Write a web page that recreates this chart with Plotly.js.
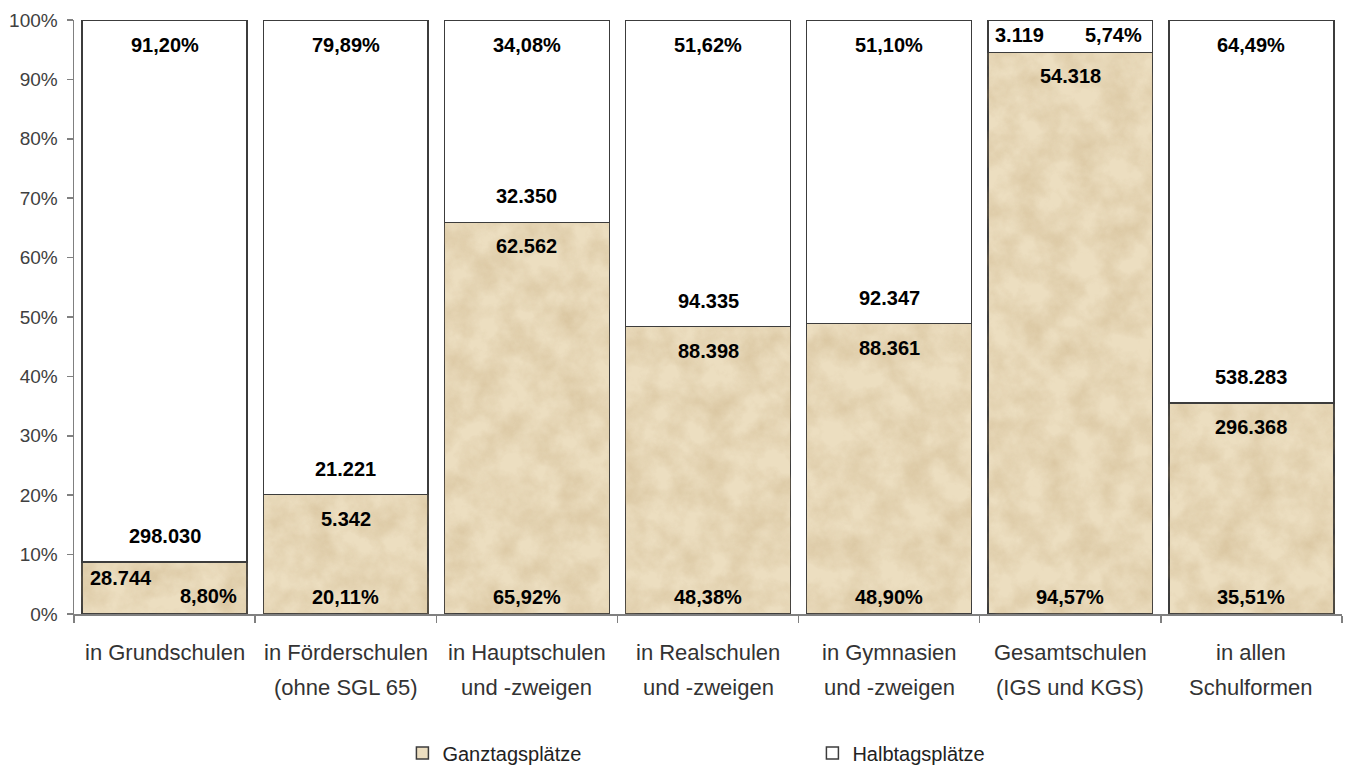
<!DOCTYPE html>
<html>
<head>
<meta charset="utf-8">
<script src="https://cdn.plot.ly/plotly-3.0.1.min.js"></script>
<style>
  html, body { margin: 0; padding: 0; background: #ffffff; }
  #chart { width: 1348px; height: 766px; }
</style>
</head>
<body>
<div id="chart"></div>
<script>
// ---- data ----
const categoryLine1 = ['in Grundschulen', 'in Förderschulen', 'in Hauptschulen', 'in Realschulen', 'in Gymnasien', 'Gesamtschulen', 'in allen'];
const categoryLine2 = ['', '(ohne SGL 65)', 'und -zweigen', 'und -zweigen', 'und -zweigen', '(IGS und KGS)', 'Schulformen'];
const ganztag = [28744, 5342, 62562, 88398, 88361, 54318, 296368];
const halbtag = [298030, 21221, 32350, 94335, 92347, 3119, 538283];
const ganztagPctLabels = ['8,80%', '20,11%', '65,92%', '48,38%', '48,90%', '94,57%', '35,51%'];
const halbtagPctLabels = ['91,20%', '79,89%', '34,08%', '51,62%', '51,10%', '5,74%', '64,49%'];
const seriesNames = ['Ganztagsplätze', 'Halbtagsplätze'];
const yTickVals = [0, 10, 20, 30, 40, 50, 60, 70, 80, 90, 100];

// category keys for the axis (line 1 + line 2)
const categories = categoryLine1.map((l, i) => (l + ' ' + categoryLine2[i]).trim());

// ---- styling ----
const FONT = '"Liberation Sans", Arial, Helvetica, sans-serif';
const sand = '#ECDEC0';
const edge = '#3c3c3c';

function fmt(n) { return String(n).replace(/\B(?=(\d{3})+(?!\d))/g, '.'); }

const traces = [
  { type: 'bar', name: seriesNames[0], x: categories, y: ganztag,
    marker: { color: sand, line: { color: edge, width: 1.5 } }, hoverinfo: 'skip' },
  { type: 'bar', name: seriesNames[1], x: categories, y: halbtag,
    marker: { color: '#ffffff', line: { color: edge, width: 1.5 } }, hoverinfo: 'skip' }
];

const lab = { family: FONT, size: 20, color: '#000000', weight: 'bold' };
const annotations = [];
categories.forEach((c, i) => {
  const total = ganztag[i] + halbtag[i];
  const gp = ganztag[i] / total * 100;
  const hp = 100 - gp;
  const base = { x: c, xref: 'x', yref: 'y', showarrow: false, font: lab, yanchor: 'middle' };
  // Halbtag segment (top)
  if (hp < 10) {
    const mid = gp + hp / 2;
    annotations.push(Object.assign({}, base, { y: mid, text: fmt(halbtag[i]), xanchor: 'left', xshift: -77, yshift: 1 }));
    annotations.push(Object.assign({}, base, { y: mid, text: halbtagPctLabels[i], xanchor: 'right', xshift: 74, yshift: 1 }));
  } else {
    annotations.push(Object.assign({}, base, { y: 100, text: halbtagPctLabels[i], yshift: -25 }));
    annotations.push(Object.assign({}, base, { y: gp, text: fmt(halbtag[i]), yshift: 26 }));
  }
  // Ganztag segment (bottom)
  if (gp < 10) {
    annotations.push(Object.assign({}, base, { y: gp, text: fmt(ganztag[i]), xanchor: 'left', xshift: -77, yshift: -16 }));
    annotations.push(Object.assign({}, base, { y: 0, text: ganztagPctLabels[i], xanchor: 'right', xshift: 74, yshift: 18 }));
  } else {
    annotations.push(Object.assign({}, base, { y: gp, text: fmt(ganztag[i]), yshift: -24 }));
    annotations.push(Object.assign({}, base, { y: 0, text: ganztagPctLabels[i], yshift: 17 }));
  }
  // category labels (two lines, wide line spacing)
  const cat = { x: c, xref: 'x', yref: 'paper', y: 0, showarrow: false, yanchor: 'middle',
                font: { family: FONT, size: 22, color: '#333333' } };
  annotations.push(Object.assign({}, cat, { text: categoryLine1[i], yshift: -38 }));
  if (categoryLine2[i]) annotations.push(Object.assign({}, cat, { text: categoryLine2[i], yshift: -73 }));
});

const layout = {
  width: 1348, height: 766,
  margin: { l: 74, r: 6, t: 20, b: 152 },
  paper_bgcolor: '#ffffff', plot_bgcolor: '#ffffff',
  barmode: 'stack', barnorm: 'percent', bargap: 0.09,
  font: { family: FONT, color: '#333333' },
  xaxis: {
    type: 'category', tickson: 'boundaries', ticks: 'outside', ticklen: 7,
    tickcolor: '#808080', tickwidth: 1.5, showline: true, linecolor: '#808080', linewidth: 1.5,
    showgrid: false, zeroline: false, showticklabels: false, tickangle: 0,
    automargin: false, fixedrange: true
  },
  yaxis: {
    range: [0, 100], tickvals: yTickVals, ticktext: yTickVals.map(v => v + '%'),
    ticks: 'outside', ticklen: 6, tickcolor: '#808080', tickwidth: 1.5,
    showline: true, linecolor: '#808080', linewidth: 1.5, showgrid: false, zeroline: false,
    tickfont: { family: FONT, size: 19, color: '#404040' }, ticklabelstandoff: 5,
    automargin: false, fixedrange: true
  },
  showlegend: true,
  legend: {
    orientation: 'h', xref: 'paper', x: 0.259, xanchor: 'left',
    yref: 'container', y: 0.017, yanchor: 'middle',
    font: { family: FONT, size: 20, color: '#222222' }, entrywidth: 365, entrywidthmode: 'pixels',
    traceorder: 'normal', itemclick: false, itemdoubleclick: false
  },
  annotations: annotations
};

Plotly.newPlot('chart', traces, layout, { displayModeBar: false, staticPlot: true }).then(gd => {
  // subtle mottled paper texture on the sand-coloured series
  const svg = gd.querySelector('svg.main-svg');
  const ns = 'http://www.w3.org/2000/svg';
  let defs = svg.querySelector('defs');
  if (!defs) { defs = document.createElementNS(ns, 'defs'); svg.insertBefore(defs, svg.firstChild); }
  const f = document.createElementNS(ns, 'filter');
  f.setAttribute('id', 'paperTex');
  f.setAttribute('color-interpolation-filters', 'sRGB');
  f.innerHTML =
    '<feTurbulence type="fractalNoise" baseFrequency="0.035" numOctaves="5" seed="7" result="n"/>' +
    '<feColorMatrix in="n" type="matrix" values="0 0 0 0 0.72  0 0 0 0 0.60  0 0 0 0 0.40  0.55 0 0 0 -0.17" result="c"/>' +
    '<feComposite in="c" in2="SourceGraphic" operator="in" result="t"/>' +
    '<feMerge><feMergeNode in="SourceGraphic"/><feMergeNode in="t"/></feMerge>';
  defs.appendChild(f);
  const barTraces = gd.querySelectorAll('.barlayer .trace');
  if (barTraces[0]) barTraces[0].querySelectorAll('path').forEach(p => p.setAttribute('filter', 'url(#paperTex)'));
});
</script>
</body>
</html>
